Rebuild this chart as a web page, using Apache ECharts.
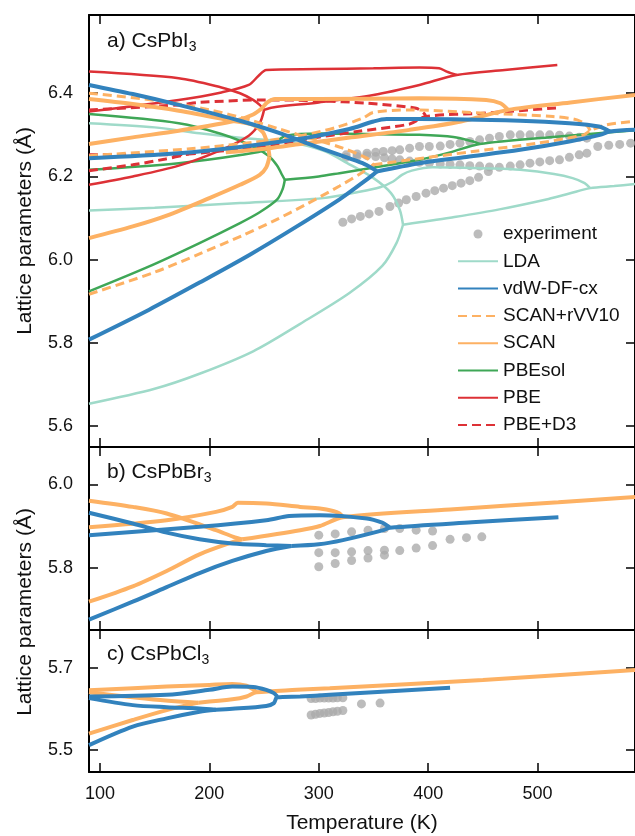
<!doctype html>
<html>
    <head>
        <meta charset="utf-8">
        <title>Lattice parameters vs temperature - CsPbX3</title>
        <style>
            html, body { margin: 0; padding: 0; background: #fff; }
            #main { width: 635px; height: 836px; }
        </style>
    </head>
    <body>
        <div id="main"></div>
        <script src="https://cdn.jsdelivr.net/npm/echarts@6/dist/echarts.min.js"></script>
        <script>
            // values are [temperature (K), lattice parameter (Å)]
            // each method: top / mid / low orthorhombic branches, "hot" = merged branch after the transitions

            // ---- a) CsPbI3
            var ldaI_top = [[90, 6.328], [150, 6.318], [191, 6.304], [228, 6.293], [273, 6.282], [304, 6.262], [326, 6.232], [350, 6.196], [366, 6.16], [374, 6.12], [377, 6.084]];
            var ldaI_mid = [[90, 6.118], [150, 6.125], [228, 6.136], [304, 6.148], [335, 6.162], [356, 6.174], [368, 6.188], [376, 6.204], [385, 6.214], [404, 6.222], [460, 6.219], [484, 6.216], [515, 6.206], [532, 6.196], [543, 6.184], [548, 6.172]];
            var ldaI_low = [[90, 5.654], [150, 5.69], [191, 5.726], [240, 5.78], [283, 5.846], [328, 5.92], [358, 5.985], [371, 6.04], [377, 6.084]];
            var ldaI_hot = [[377, 6.084], [392, 6.09], [420, 6.101], [465, 6.121], [510, 6.146], [529, 6.159], [548, 6.172], [570, 6.177], [589, 6.182]];

            var vdwI_top = [[90, 6.42], [130, 6.398], [172, 6.372], [228, 6.334], [267, 6.302], [289, 6.28], [319, 6.252], [340, 6.232], [350, 6.218], [353, 6.212]];
            var vdwI_mid = [[90, 6.244], [172, 6.256], [228, 6.271], [289, 6.293], [328, 6.314], [350, 6.332], [362, 6.338], [392, 6.338], [484, 6.334], [529, 6.328], [556, 6.32], [566, 6.308]];
            var vdwI_low = [[90, 5.808], [145, 5.88], [191, 5.945], [237, 6.012], [280, 6.08], [319, 6.145], [340, 6.185], [350, 6.205], [353, 6.212]];
            var vdwI_hot = [[353, 6.212], [392, 6.232], [435, 6.247], [484, 6.264], [529, 6.284], [557, 6.3], [566, 6.308], [589, 6.312]];

            var rvvI_top = [[90, 6.4], [150, 6.383], [200, 6.36], [237, 6.336], [264, 6.314], [300, 6.286], [322, 6.268], [344, 6.244], [350, 6.228]];
            var rvvI_mid = [[90, 6.25], [180, 6.266], [240, 6.282], [283, 6.298], [316, 6.318], [340, 6.34], [350, 6.354], [383, 6.36], [453, 6.352], [514, 6.344], [536, 6.336], [545, 6.322], [548, 6.31]];
            var rvvI_low = [[90, 5.917], [150, 5.97], [191, 6.014], [230, 6.058], [258, 6.092], [289, 6.134], [319, 6.177], [340, 6.21], [350, 6.228]];
            var rvvI_hot = [[350, 6.228], [383, 6.24], [441, 6.26], [500, 6.28], [542, 6.3], [548, 6.31], [563, 6.324], [589, 6.333]];

            var scanI_top = [[90, 6.386], [130, 6.374], [172, 6.358], [221, 6.334], [240, 6.324], [249, 6.306], [253, 6.278], [255, 6.248]];
            var scanI_mid = [[90, 6.278], [130, 6.294], [172, 6.31], [224, 6.334], [240, 6.349], [248, 6.364], [253, 6.378], [260, 6.386], [300, 6.386], [392, 6.388], [453, 6.384], [466, 6.376], [473, 6.36]];
            var scanI_low = [[90, 6.052], [130, 6.08], [161, 6.106], [200, 6.148], [228, 6.18], [246, 6.204], [252, 6.222], [255, 6.248]];
            var scanI_hot = [[215, 6.258], [255, 6.268], [283, 6.278], [330, 6.294], [383, 6.312], [430, 6.332], [473, 6.36], [530, 6.378], [589, 6.396]];

            var pbesolI_top = [[90, 6.35], [172, 6.328], [211, 6.302], [240, 6.272], [254, 6.25], [262, 6.226], [266, 6.206], [269, 6.192]];
            var pbesolI_mid = [[90, 6.216], [172, 6.232], [230, 6.252], [254, 6.266], [262, 6.285], [270, 6.298], [300, 6.303], [344, 6.302], [392, 6.3], [423, 6.295], [441, 6.284], [447, 6.278]];
            var pbesolI_low = [[90, 5.924], [145, 5.984], [191, 6.04], [228, 6.088], [246, 6.114], [262, 6.145], [267, 6.17], [269, 6.192]];
            var pbesolI_hot = [[269, 6.192], [300, 6.2], [319, 6.208], [374, 6.232], [392, 6.24], [420, 6.258], [447, 6.278], [514, 6.295], [575, 6.308], [589, 6.311]];

            var pbeI_top = [[90, 6.452], [172, 6.436], [211, 6.414], [228, 6.4], [240, 6.384], [246, 6.372], [250, 6.36]];
            var pbeI_mid = [[90, 6.356], [172, 6.384], [211, 6.402], [236, 6.42], [245, 6.442], [252, 6.456], [300, 6.458], [350, 6.46], [392, 6.462], [410, 6.46], [417, 6.452], [426, 6.444]];
            var pbeI_low = [[90, 6.18], [130, 6.2], [172, 6.226], [211, 6.264], [236, 6.298], [246, 6.328], [250, 6.36]];
            var pbeI_hot = [[250, 6.36], [258, 6.366], [300, 6.378], [350, 6.396], [392, 6.42], [426, 6.444], [470, 6.456], [518, 6.468]];

            var d3I_top = [[90, 6.36], [172, 6.372], [191, 6.378], [252, 6.384], [300, 6.382], [344, 6.376], [389, 6.364], [396, 6.352], [398, 6.344]];
            var d3I_mid = [[90, 6.252], [130, 6.252], [160, 6.252], [181, 6.254], [228, 6.266], [254, 6.274], [289, 6.29], [335, 6.308], [383, 6.326], [398, 6.344], [450, 6.352], [518, 6.365]];
            var d3I_low = [[90, 6.214], [130, 6.228], [160, 6.242], [181, 6.254]];

            var expI_a = [[325, 6.252], [335, 6.254], [344, 6.256], [352, 6.258], [359, 6.26], [367, 6.262], [374, 6.264], [383, 6.268], [392, 6.272], [401, 6.272], [411, 6.273], [420, 6.277], [429, 6.28], [438, 6.284], [447, 6.288], [456, 6.292], [465, 6.296], [475, 6.3], [484, 6.3], [493, 6.3], [502, 6.3], [511, 6.3], [520, 6.299], [529, 6.297], [538, 6.294], [545, 6.292]];
            var expI_b = [[325, 6.246], [335, 6.248], [344, 6.25], [352, 6.248], [360, 6.245], [367, 6.242], [374, 6.24], [383, 6.237], [392, 6.234], [401, 6.232], [411, 6.23], [420, 6.229], [429, 6.228], [438, 6.226], [447, 6.225], [456, 6.223], [465, 6.222], [475, 6.225], [484, 6.228], [493, 6.232], [502, 6.235], [511, 6.238], [520, 6.24], [529, 6.246], [538, 6.252], [545, 6.256]];
            var expI_c = [[322, 6.09], [330, 6.098], [338, 6.104], [346, 6.11], [355, 6.116], [365, 6.128], [373, 6.136], [380, 6.144], [389, 6.152], [398, 6.16], [406, 6.166], [414, 6.172], [422, 6.178], [430, 6.184], [438, 6.19], [446, 6.198], [455, 6.212]];
            var expI_cubic = [[555, 6.272], [565, 6.275], [575, 6.277], [585, 6.28]];

            // ---- b) CsPbBr3
            var scanBr_top = [[90, 5.961], [130, 5.946], [161, 5.93], [206, 5.89], [222, 5.874], [230, 5.868]];
            var scanBr_mid = [[90, 5.897], [161, 5.914], [206, 5.934], [221, 5.946], [226, 5.956], [252, 5.954], [283, 5.946], [301, 5.942], [313, 5.936], [319, 5.93], [322, 5.922]];
            var scanBr_low = [[90, 5.718], [130, 5.755], [161, 5.792], [191, 5.832], [222, 5.862], [230, 5.868]];
            var scanBr_hot = [[230, 5.868], [283, 5.89], [301, 5.9], [322, 5.921], [420, 5.94], [519, 5.957], [589, 5.97]];

            var vdwBr_top = [[90, 5.932], [130, 5.906], [161, 5.884], [191, 5.868], [221, 5.858], [252, 5.854], [275, 5.852]];
            var vdwBr_mid = [[90, 5.878], [191, 5.898], [252, 5.914], [273, 5.924], [301, 5.926], [344, 5.918], [358, 5.908], [363, 5.9], [365, 5.896]];
            var vdwBr_low = [[90, 5.675], [130, 5.718], [161, 5.753], [191, 5.787], [221, 5.816], [252, 5.84], [275, 5.852]];
            var vdwBr_hot = [[275, 5.852], [300, 5.856], [322, 5.866], [359, 5.89], [365, 5.896], [440, 5.909], [519, 5.921]];

            var expBr_a = [[300, 5.878], [315, 5.881], [330, 5.886], [345, 5.89], [360, 5.894], [374, 5.894], [389, 5.89], [404, 5.888], [420, 5.868], [435, 5.872], [449, 5.874]];
            var expBr_b = [[300, 5.836], [315, 5.836], [330, 5.838], [345, 5.841], [360, 5.842], [374, 5.841], [389, 5.847], [404, 5.853]];
            var expBr_c = [[300, 5.802], [315, 5.81], [330, 5.817], [345, 5.823], [360, 5.83]];

            // ---- c) CsPbCl3
            var scanCl_top = [[90, 5.645], [161, 5.654], [200, 5.658], [221, 5.66], [234, 5.656], [240, 5.647], [243, 5.64]];
            var scanCl_mid = [[90, 5.64], [130, 5.628], [160, 5.62], [190, 5.615]];
            var scanCl_low = [[90, 5.54], [130, 5.573], [161, 5.597], [190, 5.615]];
            var scanCl_hot = [[190, 5.615], [221, 5.623], [234, 5.63], [243, 5.64], [280, 5.646], [310, 5.65], [450, 5.67], [589, 5.694]];

            var vdwCl_top = [[90, 5.63], [161, 5.634], [200, 5.646], [221, 5.654], [240, 5.653], [252, 5.646], [259, 5.638], [262, 5.63]];
            var vdwCl_mid = [[90, 5.626], [130, 5.609], [161, 5.604], [191, 5.601], [206, 5.598]];
            var vdwCl_low = [[90, 5.512], [130, 5.557], [161, 5.577], [191, 5.593], [206, 5.598]];
            var vdwCl_hot = [[206, 5.598], [221, 5.6], [252, 5.607], [259, 5.614], [262, 5.628], [283, 5.63], [310, 5.634], [420, 5.651]];

            var expCl_a = [[293, 5.625], [297, 5.625], [301, 5.626], [305, 5.626], [309, 5.626], [313, 5.626], [317, 5.627], [322, 5.627], [339, 5.612], [356, 5.614]];
            var expCl_b = [[293, 5.585], [297, 5.587], [301, 5.589], [305, 5.59], [309, 5.591], [313, 5.593], [317, 5.594], [322, 5.596]];

            // ticks
            var xTicks = [100, 200, 300, 400, 500];
            var yTicksI = [5.6, 5.8, 6.0, 6.2, 6.4];
            var yTicksBr = [5.8, 6.0];
            var yTicksCl = [5.5, 5.7];

            var legendNames = ['experiment', 'LDA', 'vdW-DF-cx', 'SCAN+rVV10', 'SCAN', 'PBEsol', 'PBE', 'PBE+D3'];

            var FONT = "'Liberation Sans', Arial, Helvetica, sans-serif";

            var styles = {
                'LDA': { color: '#9fdac9', width: 2.5 },
                'PBEsol': { color: '#3fa757', width: 2.5 },
                'PBE': { color: '#dd3136', width: 2.5 },
                'PBE+D3': { color: '#dd3136', width: 3, type: [9, 5] },
                'SCAN+rVV10': { color: '#fdb163', width: 3, type: [9, 5] },
                'SCAN': { color: '#fdb163', width: 4 },
                'vdW-DF-cx': { color: '#3282bd', width: 4 }
            };

            var panels = [
                {
                    range: [5.55, 6.588], ticks: yTicksI, top: 15, height: 432,
                    exp: [expI_a, expI_b, expI_c, expI_cubic],
                    lines: [
                        ['LDA', [ldaI_top, ldaI_mid, ldaI_low, ldaI_hot]],
                        ['PBEsol', [pbesolI_top, pbesolI_mid, pbesolI_low, pbesolI_hot]],
                        ['PBE', [pbeI_top, pbeI_mid, pbeI_low, pbeI_hot]],
                        ['PBE+D3', [d3I_top, d3I_mid, d3I_low]],
                        ['SCAN+rVV10', [rvvI_top, rvvI_mid, rvvI_low, rvvI_hot]],
                        ['SCAN', [scanI_top, scanI_mid, scanI_low, scanI_hot]],
                        ['vdW-DF-cx', [vdwI_top, vdwI_mid, vdwI_low, vdwI_hot]]
                    ]
                },
                {
                    range: [5.65, 6.09], ticks: yTicksBr, top: 447, height: 183,
                    exp: [expBr_a, expBr_b, expBr_c],
                    lines: [
                        ['SCAN', [scanBr_top, scanBr_mid, scanBr_low, scanBr_hot]],
                        ['vdW-DF-cx', [vdwBr_top, vdwBr_mid, vdwBr_low, vdwBr_hot]]
                    ]
                },
                {
                    range: [5.447, 5.791], ticks: yTicksCl, top: 630, height: 142,
                    exp: [expCl_a, expCl_b],
                    lines: [
                        ['SCAN', [scanCl_top, scanCl_mid, scanCl_low, scanCl_hot]],
                        ['vdW-DF-cx', [vdwCl_top, vdwCl_mid, vdwCl_low, vdwCl_hot]]
                    ]
                }
            ];

            var axisLine = { show: true, onZero: false, lineStyle: { color: '#000', width: 2 } };
            var tickStyle = { color: '#000', width: 1.5 };

            var grids = [], xAxes = [], yAxes = [], series = [];

            panels.forEach(function (p, i) {
                grids.push({ left: 89, width: 546, top: p.top, height: p.height });
                var last = i === panels.length - 1;
                xAxes.push({
                    type: 'value', gridIndex: i, position: 'bottom', min: 90, max: 589,
                    axisLine: axisLine,
                    axisTick: { inside: true, length: 9, customValues: xTicks, lineStyle: tickStyle },
                    axisLabel: { show: last, customValues: xTicks, margin: 13, fontSize: 18, color: '#111', fontFamily: FONT },
                    splitLine: { show: false },
                    name: last ? 'Temperature (K)' : '',
                    nameLocation: 'middle', nameGap: 41,
                    nameTextStyle: { fontSize: 21, color: '#111', fontFamily: FONT }
                });
                xAxes.push({
                    type: 'value', gridIndex: i, position: 'top', min: 90, max: 589,
                    axisLine: axisLine,
                    axisTick: { inside: true, length: 9, customValues: xTicks, lineStyle: tickStyle },
                    axisLabel: { show: false },
                    splitLine: { show: false }
                });
                yAxes.push({
                    type: 'value', gridIndex: i, position: 'left', min: p.range[0], max: p.range[1],
                    axisLine: axisLine,
                    axisTick: { inside: true, length: 9, customValues: p.ticks, lineStyle: tickStyle },
                    axisLabel: {
                        customValues: p.ticks, margin: 16, fontSize: 18, color: '#111', fontFamily: FONT,
                        formatter: function (v) { return v.toFixed(1); }
                    },
                    splitLine: { show: false }
                });
                yAxes.push({
                    type: 'value', gridIndex: i, position: 'right', min: p.range[0], max: p.range[1],
                    axisLine: axisLine,
                    axisTick: { inside: true, length: 9, customValues: p.ticks, lineStyle: tickStyle },
                    axisLabel: { show: false },
                    splitLine: { show: false }
                });

                series.push({
                    type: 'scatter', name: 'experiment',
                    xAxisIndex: 2 * i, yAxisIndex: 2 * i,
                    data: [].concat.apply([], p.exp),
                    symbolSize: 9, itemStyle: { color: '#ababab' }, z: 1, silent: true
                });

                p.lines.forEach(function (entry) {
                    var st = styles[entry[0]];
                    entry[1].forEach(function (branch) {
                        series.push({
                            type: 'line', name: entry[0],
                            xAxisIndex: 2 * i, yAxisIndex: 2 * i,
                            data: branch, symbol: 'none',
                            smooth: 0.3,
                            lineStyle: { color: st.color, width: st.width, type: st.type || 'solid', cap: 'butt' },
                            itemStyle: { color: st.color },
                            z: 2, silent: true
                        });
                    });
                });
            });

            function panelLabel(x, y, main, sub) {
                return {
                    type: 'text', x: x, y: y, silent: true,
                    style: {
                        text: '{n|' + main + '}{s|' + sub + '}',
                        align: 'left', verticalAlign: 'middle',
                        rich: {
                            n: { fontSize: 21, fontFamily: FONT, fill: '#111' },
                            s: { fontSize: 14, fontFamily: FONT, fill: '#111', padding: [12, 0, 0, 0] }
                        }
                    }
                };
            }

            function yName(y) {
                return {
                    type: 'text', x: 25, y: y, rotation: Math.PI / 2, silent: true,
                    style: {
                        text: 'Lattice parameters (Å)', fontSize: 21, fontFamily: FONT, fill: '#111',
                        align: 'center', verticalAlign: 'middle'
                    }
                };
            }

            var chart = echarts.init(document.getElementById('main'), null, { renderer: 'canvas' });

            chart.setOption({
                animation: false,
                textStyle: { fontFamily: FONT },
                grid: grids,
                xAxis: xAxes,
                yAxis: yAxes,
                legend: {
                    orient: 'vertical', left: 452, top: 219,
                    itemWidth: 40, itemHeight: 9, itemGap: 7.3,
                    selectedMode: false,
                    textStyle: { fontSize: 19, color: '#111', fontFamily: FONT, lineHeight: 20 },
                    data: legendNames.map(function (n) {
                        return n === 'experiment' ? { name: n } : { name: n, itemStyle: { opacity: 0 } };
                    })
                },
                graphic: [
                    panelLabel(107, 41, 'a) CsPbI', '3'),
                    panelLabel(107, 472, 'b) CsPbBr', '3'),
                    panelLabel(107, 654, 'c) CsPbCl', '3'),
                    yName(231),
                    yName(612)
                ],
                series: series
            });

            window.onresize = chart.resize;
        </script>
    </body>
</html>
